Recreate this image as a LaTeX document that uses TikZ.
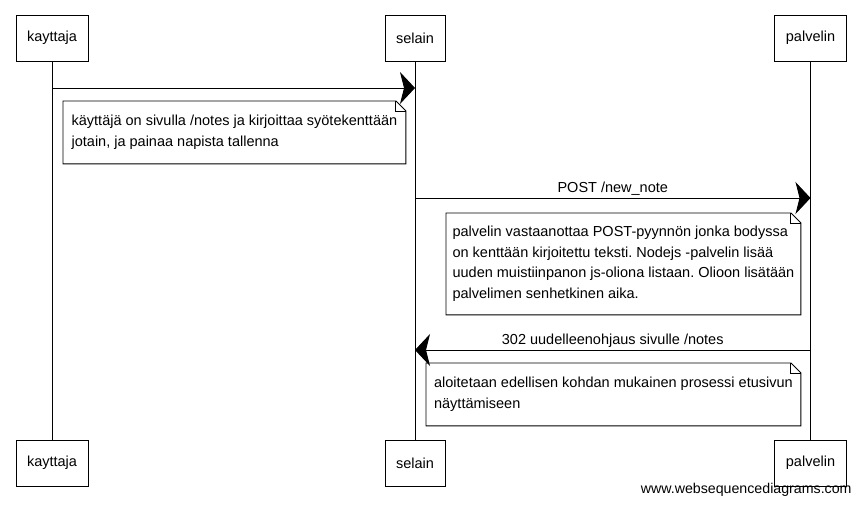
\documentclass[tikz,border=0pt]{standalone}
\usepackage{fontspec}
\setmainfont{Liberation Sans}
\frenchspacing
\usetikzlibrary{arrows.meta,positioning,calc}

\tikzset{
  actor/.style={draw, minimum height=46pt, inner xsep=11pt, font=\fontsize{14.5}{17}\selectfont},
  msg/.style={-{Stealth[length=15pt,width=32pt,inset=4pt]}},
  msglabel/.style={above, inner sep=2pt, font=\fontsize{14.5}{17}\selectfont},
  notebox/.style={anchor=north west, inner xsep=0pt, align=left, font=\fontsize{14.5}{20.5}\selectfont},
}
% note outline with a folded corner
\newcommand{\dogear}[1]{%
  \draw (#1.north west) -- ($(#1.north east)+(-10pt,0pt)$) -- ($(#1.north east)+(0pt,-10pt)$)
    -- (#1.south east) -- (#1.south west) -- cycle;
  \draw ($(#1.north east)+(-10pt,0pt)$) |- ($(#1.north east)+(0pt,-10pt)$);
}

\begin{document}
\begin{tikzpicture}[x=1pt,y=-1pt,line width=0.9pt]
	\useasboundingbox (0,0) rectangle (861,505);

	\node[actor] (kayttaja) at (52,38) {kayttaja};
	\node[actor] (selain) at (415,38) {selain};
	\node[actor] (palvelin) at (810.5,38) {palvelin};

	\node[actor] (kayttajab) at (52,463) {kayttaja};
	\node[actor] (selainb) at (415,463) {selain};
	\node[actor] (palvelinb) at (810.5,463) {palvelin};

	\draw (kayttaja) -- (kayttajab);
	\draw (selain) -- (selainb);
	\draw (palvelin) -- (palvelinb);

	\coordinate (r1) at (0,88);
	\coordinate (r2) at (0,198);
	\coordinate (r3) at (0,350);

	\draw[msg] (kayttaja |- r1) -- (selain |- r1);
	\node[notebox, minimum width=342pt, minimum height=62pt] (note1) at (63,101)
		{käyttäjä on sivulla /notes ja kirjoittaa syötekenttään\\ jotain, ja painaa napista tallenna};
	\dogear{note1}

	\draw[msg] (selain |- r2) -- node[msglabel] {POST /new\_note} (palvelin |- r2);
	\node[notebox, minimum width=354pt, minimum height=101pt] (note2) at (446,213)
		{palvelin vastaanottaa POST-pyynnön jonka bodyssa\\ on kenttään kirjoitettu teksti. Nodejs -palvelin lisää\\ uuden muistiinpanon js-oliona listaan. Olioon lisätään\\ palvelimen senhetkinen aika.};
	\dogear{note2}

	\draw[msg] (palvelin |- r3) -- node[msglabel] {302 uudelleenohjaus sivulle /notes} (selain |- r3);
	\node[notebox, minimum width=374pt, minimum height=62pt] (note3) at (426,363)
		{aloitetaan edellisen kohdan mukainen prosessi etusivun\\ näyttämiseen};
	\dogear{note3}

	\node[anchor=east, inner sep=0pt, font=\fontsize{14.2}{17}\selectfont] (wsd) at (852,490) {www.websequencediagrams.com};
\end{tikzpicture}
\end{document}
